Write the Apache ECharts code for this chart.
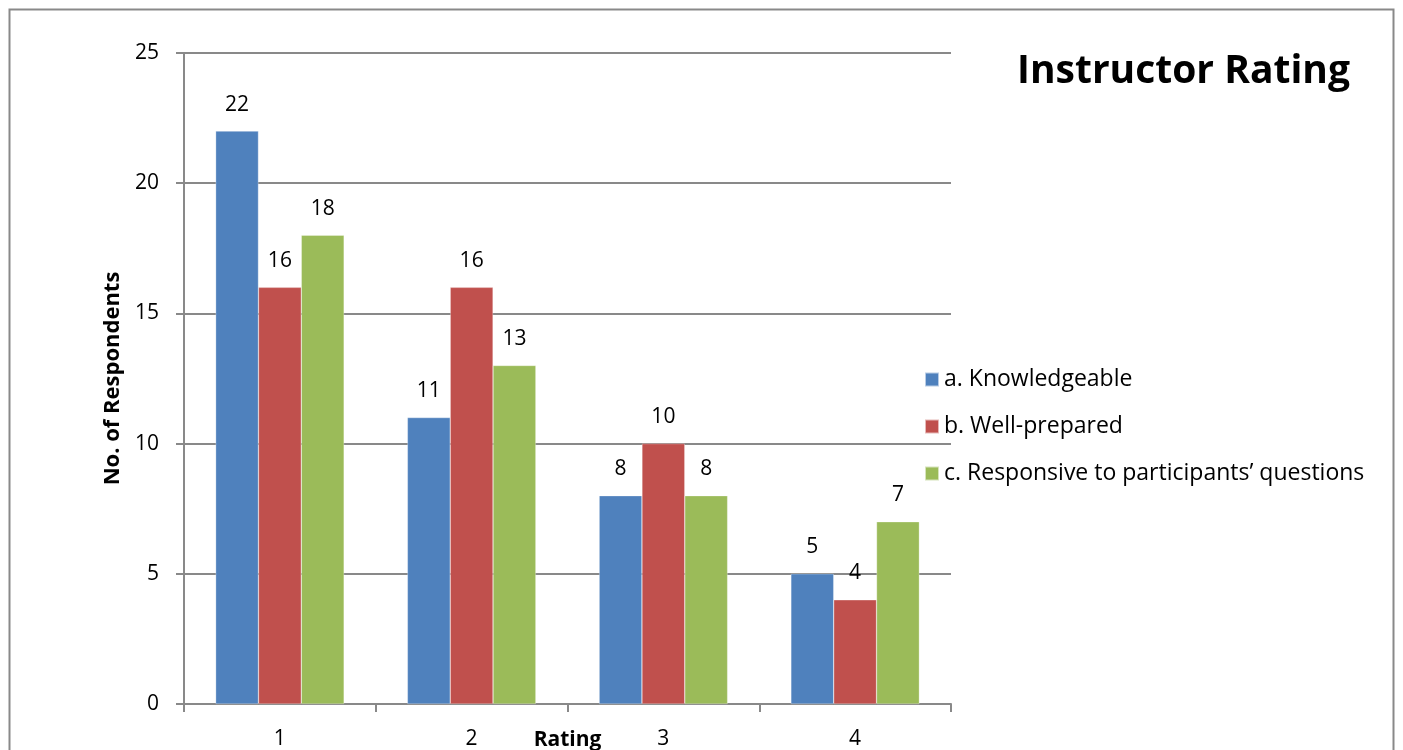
<!DOCTYPE html>
<html><head><meta charset="utf-8">
<script src="https://cdn.jsdelivr.net/npm/echarts@6/dist/echarts.min.js"></script>
<style>html,body{margin:0;padding:0;background:#fff}#c{width:1403px;height:750px}</style>
</head><body><div id="c"></div>
<script>
const categories = ['1', '2', '3', '4'];
const knowledgeable = [22, 11, 8, 5];
const wellPrepared = [16, 16, 10, 4];
const responsive = [18, 13, 8, 7];
const seriesNames = ['a. Knowledgeable', 'b. Well-prepared', 'c. Responsive to participants\u2019 questions'];
const colors = ['#4F81BD', '#C0504D', '#9BBB59'];
const FONT = '"Open Sans", sans-serif';

const chart = echarts.init(document.getElementById('c'));
const mk = (name, data, color) => ({
  name, type: 'bar', data, barGap: '0%', barCategoryGap: '33%',
  itemStyle: { color, borderColor: 'rgba(255,255,255,0.6)', borderWidth: 0.5 },
  label: { show: true, position: 'top', distance: 16, color: '#000', fontSize: 21, fontFamily: FONT },
  emphasis: { disabled: true }
});
chart.setOption({
  animation: false,
  textStyle: { fontFamily: FONT },
  graphic: [{ type: 'rect', shape: { x: 9.5, y: 9.5, width: 1384, height: 760 },
    style: { fill: 'none', stroke: '#898989', lineWidth: 2 }, silent: true, z: -1 }],
  title: { text: 'Instructor Rating', right: 48, top: 47,
    textStyle: { fontSize: 39, fontWeight: 'bold', color: '#000', fontFamily: FONT } },
  legend: { orient: 'vertical', left: 919, top: 363, itemGap: 24, itemWidth: 14, itemHeight: 14,
    icon: 'rect', textStyle: { fontSize: 23, color: '#000', fontFamily: FONT },
    data: seriesNames },
  grid: { left: 184, top: 53, right: 452, bottom: 46, containLabel: false, outerBoundsMode: 'none' },
  xAxis: { type: 'category', data: categories, name: 'Rating', nameLocation: 'middle', nameGap: 36,
    nameMoveOverlap: false,
    nameTextStyle: { fontSize: 21, fontWeight: 'bold', color: '#000', fontFamily: FONT, verticalAlign: 'middle' },
    axisLine: { lineStyle: { color: '#898989', width: 2 } },
    axisTick: { show: true, length: 8, lineStyle: { color: '#898989', width: 2 } },
    axisLabel: { fontSize: 21, color: '#000', margin: 25, fontFamily: FONT } },
  yAxis: { type: 'value', min: 0, max: 25, interval: 5,
    name: 'No. of Respondents', nameLocation: 'middle', nameGap: 60, nameRotate: 90,
    nameMoveOverlap: false,
    nameTextStyle: { fontSize: 22, fontWeight: 'bold', color: '#000', fontFamily: FONT },
    axisLine: { show: true, lineStyle: { color: '#898989', width: 2 } },
    axisTick: { show: true, length: 8, lineStyle: { color: '#898989', width: 2 } },
    splitLine: { lineStyle: { color: '#898989', width: 2 } },
    axisLabel: { fontSize: 21, color: '#000', margin: 25, fontFamily: FONT } },
  series: [mk(seriesNames[0], knowledgeable, colors[0]), mk(seriesNames[1], wellPrepared, colors[1]), mk(seriesNames[2], responsive, colors[2])]
});
</script></body></html>
